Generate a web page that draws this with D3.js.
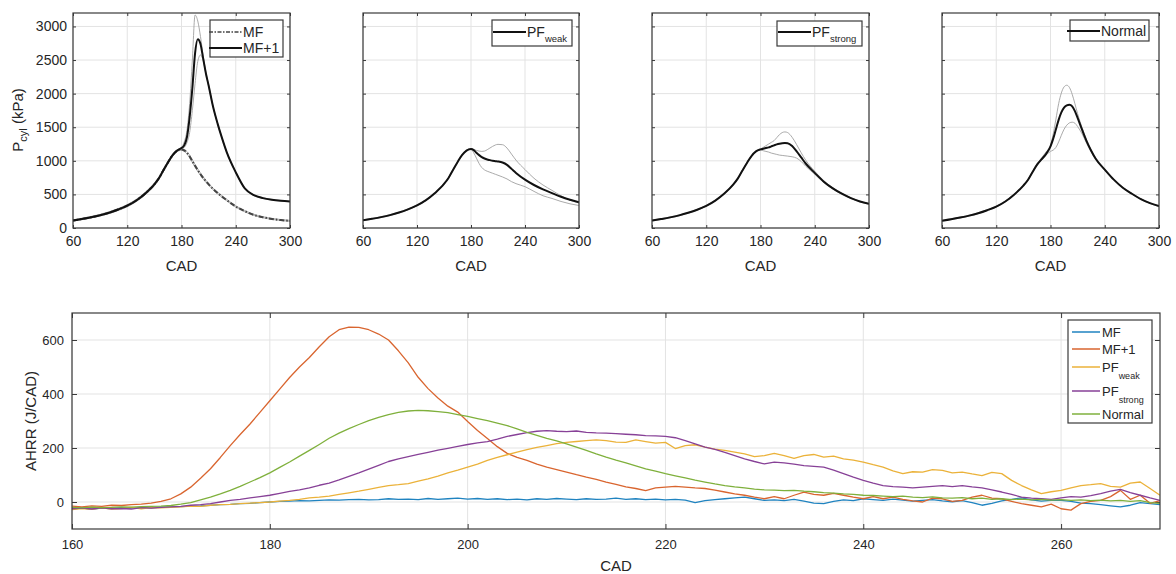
<!DOCTYPE html>
<html><head><meta charset="utf-8">
<script src="https://cdn.jsdelivr.net/npm/d3@7"></script>
<style>body{margin:0;background:#fff} text{font-family:"Liberation Sans",Arial,sans-serif;fill:#262626}</style>
</head><body><svg id="c" width="1176" height="574"></svg>
<script>
// ---------- top panels: cylinder pressure (kPa) vs CAD ----------
const cadP = [60,70,80,90,100,110,120,130,140,150,155,160,165,170,175,180,183,186,189,192,195,198,201,204,207,210,215,220,225,230,240,250,260,270,280,290,300];
const pMF    = [112,135,160,190,228,275,332,410,515,650,740,860,975,1080,1150,1170,1155,1120,1065,995,925,860,800,745,695,650,580,520,465,415,320,250,195,160,135,118,106];
const pMFhi  = [122,146,172,203,242,290,348,428,535,672,762,882,995,1098,1165,1185,1170,1138,1085,1015,945,880,818,762,710,665,593,533,478,427,330,260,204,168,143,126,114];
const pMFlo  = [102,124,148,178,214,260,316,392,496,628,718,838,955,1062,1136,1156,1140,1103,1046,976,906,842,783,729,680,636,567,508,453,404,311,241,187,152,128,111,99];
const pMF1   = [112,135,160,190,228,275,332,410,515,650,740,860,975,1080,1150,1190,1230,1350,1650,2080,2600,2810,2740,2520,2300,2120,1800,1550,1330,1130,830,590,490,445,420,405,395];
const pMF1hi = [118,142,168,198,236,284,342,420,526,662,752,872,986,1090,1160,1200,1280,1450,1850,2500,3170,3080,2850,2560,2320,2130,1805,1555,1335,1135,835,595,495,450,424,408,398];
const pMF1lo = [104,128,152,182,220,266,322,400,504,638,728,848,964,1070,1140,1180,1200,1270,1420,1750,2150,2480,2575,2490,2290,2110,1795,1545,1325,1125,825,585,485,440,416,402,392];
const pWeak   = [114,137,162,192,230,278,336,414,520,655,745,865,980,1085,1152,1175,1160,1120,1085,1055,1035,1020,1010,1000,995,990,975,940,880,820,720,640,575,520,465,420,382];
const pWeakHi = [120,143,168,198,236,284,342,420,526,661,751,871,986,1091,1158,1182,1170,1155,1145,1140,1145,1165,1190,1215,1235,1245,1240,1190,1100,1010,870,740,640,560,480,415,372];
const pWeakLo = [108,131,156,186,224,272,330,408,514,649,739,859,974,1079,1146,1168,1120,1040,960,900,865,845,830,815,800,785,760,730,690,660,615,545,480,440,395,360,335];
const pStrong   = [110,133,158,188,226,272,330,408,512,648,738,855,968,1070,1140,1170,1180,1190,1200,1215,1230,1245,1255,1262,1265,1262,1220,1140,1050,960,820,690,590,510,445,395,360];
const pStrongHi = [116,139,164,194,232,278,336,414,518,654,744,861,974,1076,1146,1175,1200,1225,1250,1275,1300,1345,1390,1420,1430,1420,1350,1240,1120,1010,845,705,600,515,450,398,362];
const pStrongLo = [104,127,152,182,220,266,324,402,506,642,732,849,962,1064,1134,1165,1150,1140,1130,1115,1105,1095,1085,1080,1075,1070,1060,1040,990,920,800,675,580,500,440,390,354];
const pNormal   = [108,130,155,184,220,265,318,395,500,632,715,830,940,1020,1100,1215,1330,1470,1610,1720,1790,1825,1835,1810,1740,1640,1460,1290,1150,1030,870,720,600,510,430,370,325];
const pNormalHi = [114,136,161,190,226,271,324,401,506,638,722,840,955,1040,1130,1230,1400,1620,1850,2010,2100,2125,2090,1990,1850,1700,1490,1310,1160,1040,875,725,605,515,435,372,326];
const pNormalLo = [102,124,149,178,214,259,312,389,494,626,708,822,930,1005,1085,1140,1160,1200,1280,1380,1470,1530,1565,1575,1560,1510,1400,1260,1130,1020,860,715,595,505,425,365,320];
const pXTicks = [60,120,180,240,300];
const pYTicks = [0,500,1000,1500,2000,2500,3000];

// ---------- bottom panel: AHRR (J/CAD) vs CAD ----------
const cadH = d3.range(160, 271);
const hMF = [-25,-22,-26,-23,-24,-21,-23,-20,-22,-19,-18,
 -17,-15,-14,-12,-10,-9,-6,-5,-2,0,
 2,3,5,4,6,8,7,9,10,8,
 9,12,10,11,9,13,10,12,14,11,
 13,10,12,9,11,8,12,10,13,11,
 9,12,10,11,14,10,12,9,11,8,
 10,7,-2,5,9,12,15,18,12,6,
 8,5,10,3,-4,-6,2,8,5,12,
 9,6,11,7,3,6,9,4,1,5,
 -2,-12,-5,4,10,15,8,3,6,6,
 2,-4,-6,-10,-14,-18,-12,-2,-6,-10];
const hMF1 = [-15,-18,-14,-16,-12,-13,-10,-8,-4,2,12,
 30,55,88,123,165,209,250,289,332,375,
 418,461,500,535,575,612,638,648,647,638,
 622,600,560,515,462,420,385,355,333,298,
 265,235,205,180,165,154,140,129,120,111,
 101,92,84,74,65,56,50,42,52,55,
 58,55,52,50,44,37,30,25,18,12,
 20,12,25,37,28,25,32,25,18,12,
 20,12,18,10,4,0,14,12,2,6,
 18,25,14,12,2,-6,-12,-18,-8,-25,
 -30,-6,2,6,20,43,10,25,-5,5];
const hWeak = [-28,-24,-27,-22,-26,-24,-20,-25,-21,-22,-20,
 -18,-15,-16,-12,-10,-9,-6,-4,-2,0,
 3,6,10,15,18,22,28,34,40,47,
 54,61,64,68,77,86,96,108,118,129,
 140,154,165,175,185,194,202,209,216,221,
 224,227,230,227,222,221,230,224,218,221,
 198,209,212,203,196,191,185,178,168,172,
 180,172,162,172,176,166,170,160,155,148,
 138,129,115,105,112,111,120,117,108,111,
 104,98,110,105,80,61,45,31,38,43,
 52,61,64,68,58,55,70,74,50,25];
const hStrong = [-25,-23,-26,-22,-25,-24,-26,-21,-23,-20,-18,
 -16,-12,-10,-6,0,6,10,15,20,25,
 32,39,45,52,62,70,82,95,108,122,
 136,150,160,168,176,184,192,199,206,213,
 219,224,233,243,250,257,262,264,262,261,
 263,258,256,255,253,251,249,246,245,243,
 238,227,215,203,195,184,172,160,150,141,
 148,145,140,135,132,129,118,105,92,80,
 70,61,57,55,52,55,58,61,57,61,
 56,52,45,37,28,18,14,12,10,15,
 20,18,24,31,40,47,35,25,15,6];
const hNormal = [-20,-22,-19,-21,-20,-18,-19,-17,-16,-15,-13,
 -8,-2,8,18,30,43,58,74,90,108,
 128,148,170,191,213,236,255,272,287,301,
 313,324,332,337,339,338,335,331,324,317,
 309,301,292,283,271,258,247,236,226,215,
 203,191,178,166,155,145,134,123,114,105,
 97,89,81,74,67,61,56,52,48,45,
 44,42,43,40,38,35,33,30,28,25,
 24,22,20,22,18,16,19,15,14,16,
 12,14,10,12,9,11,8,10,7,9,
 6,8,5,7,4,6,2,5,-2,-5];
const hXTicks = [160,180,200,220,240,260];
const hYTicks = [0,200,400,600];
const hNames = ["MF","MF+1","PF|weak","PF|strong","Normal"];
const hColors = ["#1f83c0","#d9652f","#ebb23a","#874197","#7fb03c"];

const svg = d3.select("#c");
const GRID = "#e3e3e3", FRAME = "#3a3a3a";

function drawFrame(g, x, y, xt, yt, opts) {
  const [X0, X1] = x.range(), [Y0, Y1] = y.range();
  g.append("g").selectAll("line").data(xt).join("line")
    .attr("x1", d => x(d)).attr("x2", d => x(d)).attr("y1", Y0).attr("y2", Y1)
    .attr("stroke", GRID).attr("stroke-width", 1);
  g.append("g").selectAll("line").data(yt).join("line")
    .attr("y1", d => y(d)).attr("y2", d => y(d)).attr("x1", X0).attr("x2", X1)
    .attr("stroke", GRID).attr("stroke-width", 1);
  const ts = opts.tick;
  const ax = g.append("g").attr("transform", `translate(0,${Y0})`)
    .call(d3.axisBottom(x).tickValues(xt).tickSizeInner(-ts).tickSizeOuter(0).tickPadding(opts.xpad));
  const axT = g.append("g").attr("transform", `translate(0,${Y1})`)
    .call(d3.axisTop(x).tickValues(xt).tickSizeInner(-ts).tickSizeOuter(0).tickFormat(""));
  const ay = g.append("g").attr("transform", `translate(${X0},0)`)
    .call(d3.axisLeft(y).tickValues(yt).tickSizeInner(-ts).tickSizeOuter(0).tickPadding(opts.ypad)
      .tickFormat(opts.ylabels ? d3.format("d") : ""));
  const ayR = g.append("g").attr("transform", `translate(${X1},0)`)
    .call(d3.axisRight(y).tickValues(yt).tickSizeInner(-ts).tickSizeOuter(0).tickFormat(""));
  [ax, axT, ay, ayR].forEach(a => {
    a.select(".domain").remove();
    a.selectAll("line").attr("stroke", FRAME).attr("stroke-width", 1);
    a.selectAll("text").attr("font-size", opts.fs).style("fill", "#262626")
      .style("font-family", '"Liberation Sans",Arial,sans-serif');
  });
  return {X0, X1, Y0, Y1};
}

function frameRect(g, b) {
  g.append("rect").attr("x", b.X0).attr("y", b.Y1).attr("width", b.X1 - b.X0).attr("height", b.Y0 - b.Y1)
    .attr("fill", "none").attr("stroke", FRAME).attr("stroke-width", 1.2);
}

function labelSub(sel, main, sub, fs, subfs, dy) {
  sel.append("tspan").text(main);
  if (sub) sel.append("tspan").text(sub).attr("font-size", subfs).attr("dy", dy);
}

// ---------- top panels ----------
const panelX = [[73, 290], [363, 579], [652, 869], [942, 1159]];
const pTop = 13, pBot = 228;
const panels = [
  {gray: [pMFhi, pMFlo, pMF1hi, pMF1lo], main: [{d: pMF, dash: true}, {d: pMF1}],
   legend: {x0: 210, x1: 283, y0: 20, y1: 57, items: [{t: "MF", dash: true, y: 32}, {t: "MF+1", y: 48}]}},
  {gray: [pWeakHi, pWeakLo], main: [{d: pWeak}],
   legend: {x0: 492, x1: 572, y0: 20, y1: 46, items: [{t: "PF", sub: "weak", y: 32}]}},
  {gray: [pStrongHi, pStrongLo], main: [{d: pStrong}],
   legend: {x0: 777, x1: 862, y0: 21, y1: 46, items: [{t: "PF", sub: "strong", y: 32}]}},
  {gray: [pNormalHi, pNormalLo], main: [{d: pNormal}],
   legend: {x0: 1070, x1: 1149, y0: 20, y1: 41, items: [{t: "Normal", y: 31}]}}
];

panels.forEach((p, i) => {
  const g = svg.append("g");
  const x = d3.scaleLinear().domain([60, 300]).range(panelX[i]);
  const y = d3.scaleLinear().domain([0, 3200]).range([pBot, pTop]);
  const b = drawFrame(g, x, y, pXTicks, pYTicks, {tick: 3, xpad: 8, ypad: 6, fs: 14, ylabels: i === 0});
  const line = d3.line().x((d, k) => x(cadP[k])).y(d => y(d)).curve(d3.curveMonotoneX);
  const clip = "clipP" + i;
  g.append("clipPath").attr("id", clip).append("rect")
    .attr("x", b.X0).attr("y", b.Y1).attr("width", b.X1 - b.X0).attr("height", b.Y0 - b.Y1);
  const lg = g.append("g").attr("clip-path", `url(#${clip})`);
  p.gray.forEach(d => lg.append("path").attr("d", line(d)).attr("fill", "none")
    .attr("stroke", "#a0a0a0").attr("stroke-width", 0.9));
  p.main.forEach(m => lg.append("path").attr("d", line(m.d)).attr("fill", "none")
    .attr("stroke", m.dash ? "#444" : "#111").attr("stroke-width", m.dash ? 2 : 2)
    .attr("stroke-dasharray", m.dash ? "5,2,1.5,2" : null));
  frameRect(g, b);
  g.append("text").attr("x", (b.X0 + b.X1) / 2).attr("y", 271).attr("text-anchor", "middle")
    .attr("font-size", 15).text("CAD");
  const L = p.legend;
  g.append("rect").attr("x", L.x0).attr("y", L.y0).attr("width", L.x1 - L.x0).attr("height", L.y1 - L.y0)
    .attr("fill", "#fff").attr("stroke", FRAME).attr("stroke-width", 1.2);
  L.items.forEach(it => {
    const tx = it.sub ? L.x0 + 35 : L.x1 - (it.t === "Normal" ? 48 : 40);
    g.append("line").attr("x1", tx - 34).attr("x2", tx - 1).attr("y1", it.y).attr("y2", it.y)
      .attr("stroke", it.dash ? "#444" : "#111").attr("stroke-width", it.dash ? 1.6 : 1.8)
      .attr("stroke-dasharray", it.dash ? "4,1.5,1.5,1.5" : null);
    const t = g.append("text").attr("x", tx).attr("y", it.y + 5).attr("font-size", 14);
    labelSub(t, it.t, it.sub, 14, 9.5, 5);
  });
});

svg.append("text").attr("transform", "translate(23,120) rotate(-90)").attr("text-anchor", "middle")
  .attr("font-size", 15).call(t => {
    t.append("tspan").text("P");
    t.append("tspan").text("cyl").attr("font-size", 11).attr("dy", 4);
    t.append("tspan").text(" (kPa)").attr("dy", -4);
  });

// ---------- bottom panel ----------
{
  const g = svg.append("g");
  const x = d3.scaleLinear().domain([160, 270]).range([72, 1160]);
  const y = d3.scaleLinear().domain([-100, 700]).range([529, 313]);
  const b = drawFrame(g, x, y, hXTicks, hYTicks, {tick: 5, xpad: 11, ypad: 8, fs: 13, ylabels: true});
  g.append("clipPath").attr("id", "clipH").append("rect")
    .attr("x", b.X0).attr("y", b.Y1).attr("width", b.X1 - b.X0).attr("height", b.Y0 - b.Y1);
  const lg = g.append("g").attr("clip-path", "url(#clipH)");
  const line = d3.line().x((d, k) => x(cadH[k])).y(d => y(d));
  [hMF, hMF1, hWeak, hStrong, hNormal].forEach((d, i) => {
    lg.append("path").attr("d", line(d)).attr("fill", "none").attr("stroke", hColors[i])
      .attr("stroke-width", 1.3).attr("stroke-linejoin", "round");
  });
  frameRect(g, b);
  g.append("text").attr("x", (b.X0 + b.X1) / 2).attr("y", 571).attr("text-anchor", "middle")
    .attr("font-size", 15).text("CAD");
  g.append("text").attr("transform", "translate(36,421) rotate(-90)").attr("text-anchor", "middle")
    .attr("font-size", 15).text("AHRR (J/CAD)");
  const lx0 = 1068, lx1 = 1152, ly0 = 320, ly1 = 423;
  g.append("rect").attr("x", lx0).attr("y", ly0).attr("width", lx1 - lx0).attr("height", ly1 - ly0)
    .attr("fill", "#fff").attr("stroke", FRAME).attr("stroke-width", 1.2);
  const ys = [332, 349, 367, 391, 414];
  hNames.forEach((n, i) => {
    const [main, sub] = n.split("|");
    g.append("line").attr("x1", 1072).attr("x2", 1100).attr("y1", ys[i]).attr("y2", ys[i])
      .attr("stroke", hColors[i]).attr("stroke-width", 1.5);
    const t = g.append("text").attr("x", 1102).attr("y", ys[i] + 5).attr("font-size", 13);
    labelSub(t, main, sub, 13, 9, 7);
  });
}
</script></body></html>
